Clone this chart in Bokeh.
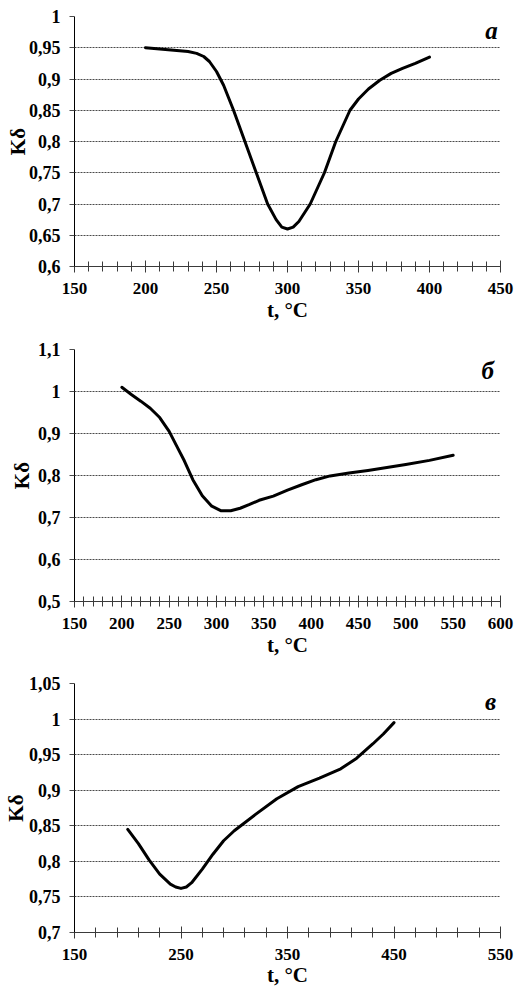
from bokeh.plotting import figure
from bokeh.layouts import column
from bokeh.models import Range1d, FixedTicker, CustomJSTickFormatter, Label
from bokeh.embed import file_html
from bokeh.resources import INLINE

# ---- data: panel а ----
a_t = [200, 210, 220, 230, 236, 241, 245, 250, 255, 262, 270, 278, 286, 292, 296, 300, 304, 308, 316, 326, 334, 344, 350, 357, 365, 373, 381, 390, 400]
a_k = [0.950, 0.948, 0.946, 0.944, 0.941, 0.936, 0.928, 0.912, 0.890, 0.850, 0.800, 0.750, 0.700, 0.675, 0.663, 0.660, 0.663, 0.672, 0.700, 0.750, 0.800, 0.850, 0.868, 0.884, 0.898, 0.909, 0.917, 0.925, 0.935]
a_xticks = [150, 200, 250, 300, 350, 400, 450]
a_xminor = list(range(150, 451, 10))
a_yticks = [0.6, 0.65, 0.7, 0.75, 0.8, 0.85, 0.9, 0.95, 1.0]

# ---- data: panel б ----
b_t = [200, 210, 220, 230, 240, 250, 258, 266, 275, 285, 295, 305, 315, 325, 335, 345, 360, 375, 390, 405, 420, 440, 460, 480, 500, 525, 550]
b_k = [1.010, 0.993, 0.977, 0.960, 0.938, 0.905, 0.870, 0.835, 0.790, 0.752, 0.727, 0.716, 0.716, 0.722, 0.731, 0.741, 0.751, 0.765, 0.778, 0.790, 0.799, 0.806, 0.812, 0.819, 0.826, 0.836, 0.848]
b_xticks = [150, 200, 250, 300, 350, 400, 450, 500, 550, 600]
b_xminor = list(range(150, 601, 10))
b_yticks = [0.5, 0.6, 0.7, 0.8, 0.9, 1.0, 1.1]

# ---- data: panel в ----
c_t = [200, 210, 220, 230, 240, 245, 250, 255, 260, 270, 280, 290, 300, 320, 340, 360, 380, 400, 415, 430, 440, 450]
c_k = [0.845, 0.825, 0.802, 0.782, 0.768, 0.764, 0.762, 0.764, 0.770, 0.789, 0.810, 0.829, 0.843, 0.866, 0.888, 0.905, 0.917, 0.930, 0.945, 0.965, 0.979, 0.995]
c_xticks = [150, 250, 350, 450, 550]
c_xminor = list(range(150, 551, 20))
c_yticks = [0.7, 0.75, 0.8, 0.85, 0.9, 0.95, 1.0, 1.05]

FONT = "Liberation Serif"

fmt_js = """
var s = tick.toFixed(2).replace(/0+$/, '').replace(/\\.$/, '');
return s.replace('.', ',');
"""


def panel(t, k, xr, yr, xticks, xminor, yticks, letter, lx, ly,
          height, left, right, top, bottom, ylab_standoff, xlab_standoff):
    p = figure(width=531, height=height, output_backend="svg", toolbar_location=None,
               x_range=Range1d(*xr), y_range=Range1d(*yr),
               min_border_left=left, min_border_right=right,
               min_border_top=top, min_border_bottom=bottom)
    p.outline_line_color = None
    p.background_fill_color = "white"

    yt = FixedTicker(ticks=yticks)
    p.yaxis.ticker = yt
    p.ygrid.ticker = yt
    p.yaxis.formatter = CustomJSTickFormatter(code=fmt_js)
    p.xaxis.ticker = FixedTicker(ticks=xticks, minor_ticks=xminor)
    p.xgrid.visible = False

    p.ygrid.grid_line_color = "#4a4a4a"
    p.ygrid.grid_line_dash = "2 1"
    p.ygrid.grid_line_width = 1

    # y axis
    ya = p.yaxis[0]
    ya.axis_line_color = "black"
    ya.axis_line_width = 1
    ya.major_tick_in = 0
    ya.major_tick_out = 5
    ya.major_tick_line_color = "#4a4a4a"
    ya.minor_tick_line_color = None
    ya.major_label_standoff = 9
    ya.major_label_text_font = FONT
    ya.major_label_text_font_style = "bold"
    ya.major_label_text_font_size = "18px"
    ya.major_label_text_color = "black"
    ya.axis_label = "Kδ"
    ya.axis_label_text_font = FONT
    ya.axis_label_text_font_style = "bold"
    ya.axis_label_text_font_size = "21px"
    ya.axis_label_text_color = "black"
    ya.axis_label_standoff = ylab_standoff

    # x axis
    xa = p.xaxis[0]
    xa.axis_line_color = "#3a3a3a"
    xa.axis_line_width = 1
    xa.major_tick_in = 6
    xa.major_tick_out = 6
    xa.minor_tick_in = 5
    xa.minor_tick_out = 5
    xa.major_tick_line_color = "#3a3a3a"
    xa.minor_tick_line_color = "#3a3a3a"
    xa.major_label_standoff = 10
    xa.major_label_text_font = FONT
    xa.major_label_text_font_style = "bold"
    xa.major_label_text_font_size = "17px"
    xa.major_label_text_color = "black"
    xa.axis_label = "t, °C"
    xa.axis_label_text_font = FONT
    xa.axis_label_text_font_style = "bold"
    xa.axis_label_text_font_size = "21px"
    xa.axis_label_text_color = "black"
    xa.axis_label_standoff = xlab_standoff

    p.line(t, k, line_color="black", line_width=3, line_join="round", line_cap="round")

    p.add_layout(Label(x=lx, y=ly, text=letter, text_align="right", text_baseline="middle",
                       text_font=FONT, text_font_style="bold italic", text_font_size="25px",
                       text_color="black"))
    return p


pa = panel(a_t, a_k, (150, 450), (0.6, 1.0), a_xticks, a_xminor, a_yticks, "а", 448, 0.977,
           height=328, left=72, right=31, top=16, bottom=62, ylab_standoff=-4, xlab_standoff=1)
pb = panel(b_t, b_k, (150, 600), (0.5, 1.1), b_xticks, b_xminor, b_yticks, "б", 593, 1.05,
           height=335, left=66, right=24, top=21, bottom=62, ylab_standoff=1, xlab_standoff=1)
pc = panel(c_t, c_k, (150, 550), (0.7, 1.05), c_xticks, c_xminor, c_yticks, "в", 546, 1.025,
           height=329, left=71, right=31, top=20, bottom=60, ylab_standoff=-2, xlab_standoff=0)

layout = column(pa, pb, pc, spacing=0)

open("out.html", "w").write(file_html(layout, INLINE))
